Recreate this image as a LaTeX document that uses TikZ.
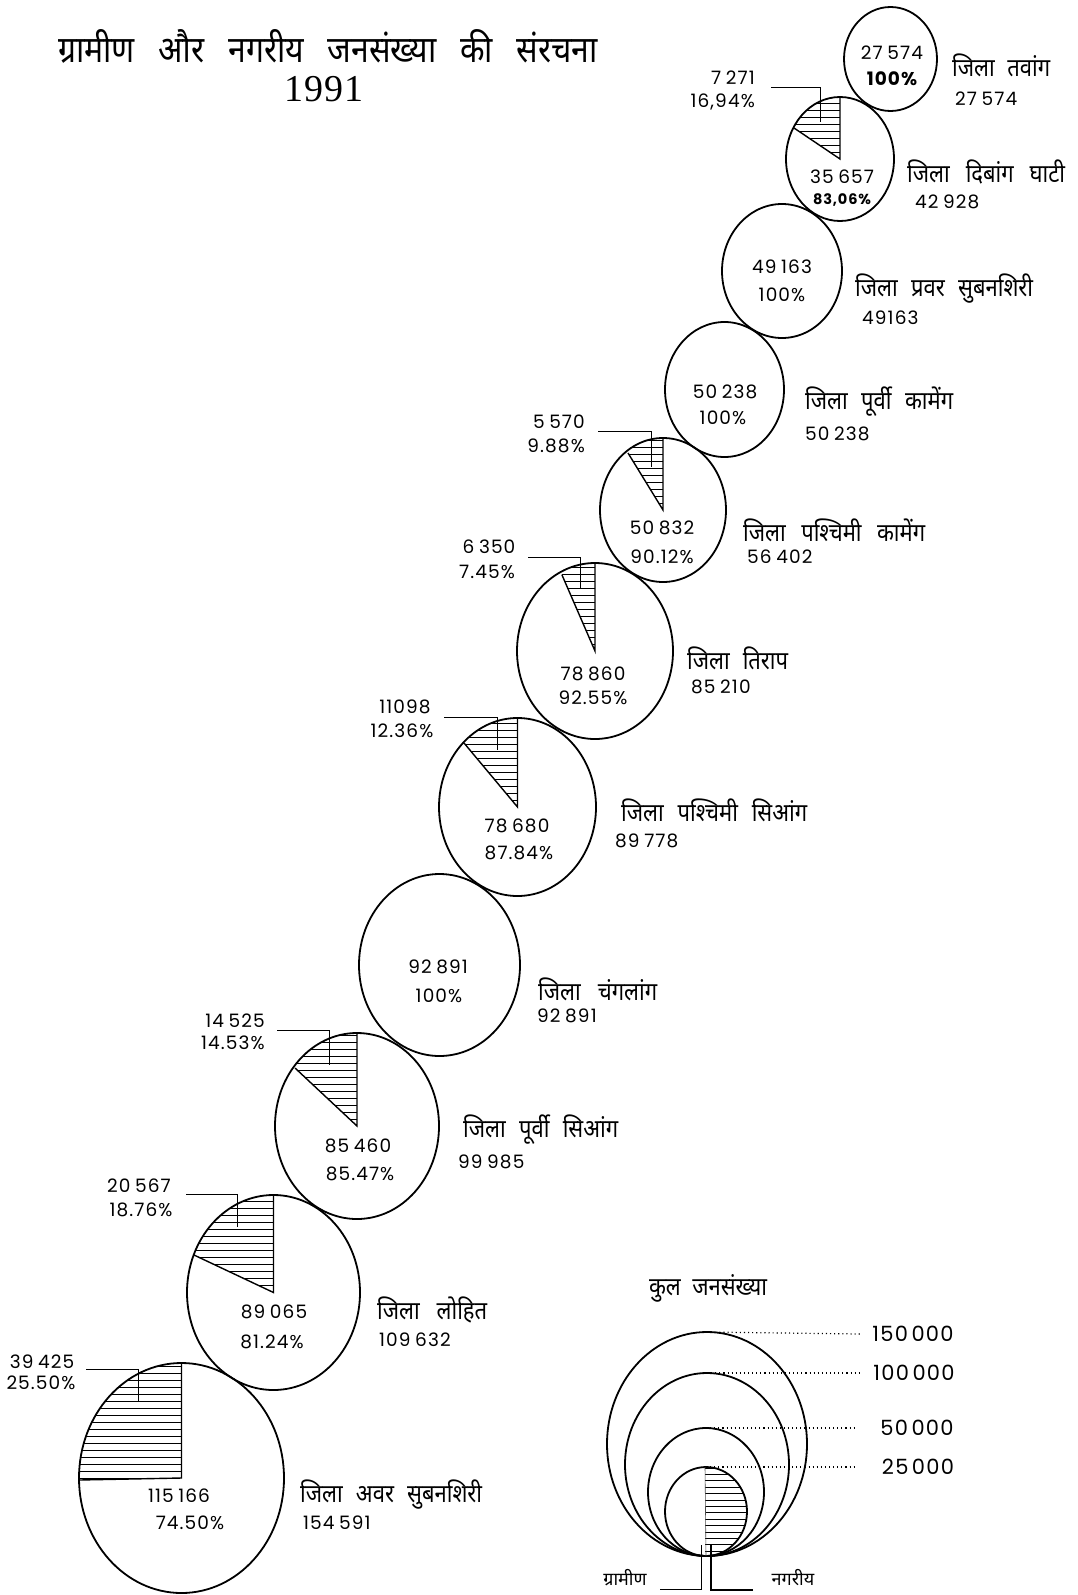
\documentclass[tikz,border=0pt]{standalone}
\usepackage{fontspec}
\setmainfont[LetterSpace=6]{Poppins}
\newfontfamily\hin[Script=Devanagari]{Noto Sans}
\newfontfamily\serifnum[LetterSpace=3]{Liberation Serif}
\usetikzlibrary{shapes.geometric,calc}
\tikzset{
  disc/.style={draw,ellipse,inner sep=0pt,outer sep=0pt,line width=1.8pt},
  wedgeedge/.style={line width=1.4pt},
  hatchline/.style={line width=0.7pt},
  leader/.style={line width=1pt},
  dots/.style={line width=1.2pt,dash pattern=on 1.1pt off 3pt},
  num/.style={inner sep=0pt,font=\fontsize{18.5}{20}\selectfont},
  numb/.style={num,font=\fontsize{18.5}{20}\selectfont\bfseries},
  numsmall/.style={num,font=\fontsize{14.5}{18}\selectfont\bfseries},
  total/.style={num,anchor=west},
  lab/.style={inner sep=0pt,anchor=west,font=\hin\fontsize{22}{24}\selectfont},
  legnum/.style={inner sep=0pt,font=\fontsize{21}{24}\selectfont},
  smalllab/.style={inner sep=0pt,font=\hin\fontsize{18}{20}\selectfont},
}
\newcommand\fit[2]{\scalebox{1}[1.15]{\hbox to #1pt{#2}}}
\newcommand\sep{\hfill}
\newcommand\ts{\hspace{0.25em}}
% name, cx, cy, rx, ry
\newcommand\plaindisc[5]{%
  \node[disc,minimum width={2*#4*1pt},minimum height={2*#5*1pt}] (#1) at (#2,#3) {};}
% name, cx, cy, rx, ry, tipx, tipy
\newcommand\hatchpie[7]{%
  \plaindisc{#1}{#2}{#3}{#4}{#5}%
  \pgfmathsetmacro\ex{#2+1.4*(#6-#2)}%
  \pgfmathsetmacro\ey{#3+1.4*(#7-#3)}%
  \pgfmathsetmacro\ty{#3-1.5*#5}%
  \pgfmathsetmacro\lx{#2-#4}%
  \pgfmathtruncatemacro\nn{#5/7}%
  \begin{scope}
    \clip (#2,#3) ellipse [x radius=#4, y radius=#5];
    \clip (#2,#3) -- (\ex,\ey) -- (\ex,\ty) -- (#2,\ty) -- cycle;
    \foreach \k in {0,...,\nn}{
      \pgfmathsetmacro\yy{#3-\k*7}
      \draw[hatchline] (\lx,\yy) -- (#2,\yy);
    }
  \end{scope}
  \coordinate (#1apex) at (#2,#3);
  \coordinate (#1tip) at (#6,#7);
  \coordinate (#1top) at ($(#2,#3)-(0,#5)$);
  \draw[wedgeedge] (#1tip) -- (#1apex) -- (#1top);}
\newcommand\lead[4]{%
  \coordinate (#1a) at (#2,#3);
  \coordinate (#1b) at (#4);
  \draw[leader] (#1a) -| (#1b);}

\begin{document}
\begin{tikzpicture}[x=1pt,y=-1pt]
\path[use as bounding box,fill=white] (0,0) rectangle (1078,1595);

% title
\node[inner sep=0pt,font=\hin\fontsize{32}{36}\selectfont] (title) at (328,46)
  {\fit{540}{ग्रामीण\sep और\sep नगरीय\sep जनसंख्या\sep की\sep संरचना}};
\node[inner sep=0pt,font=\serifnum\fontsize{38}{40}\selectfont] (year) at (324,89) {1991};

% discs
\plaindisc{c1}{890.5}{59}{46.5}{52}
\hatchpie{c2}{840}{159}{54}{62}{794}{128}
\plaindisc{c3}{782}{271}{60}{67}
\plaindisc{c4}{724.5}{389.5}{59.5}{67.5}
\hatchpie{c5}{663}{510}{63}{72}{628}{453}
\hatchpie{c6}{595}{651}{78}{88}{562}{575}
\hatchpie{c7}{517.5}{807}{78.5}{89}{464}{743}
\plaindisc{c8}{439.5}{965}{80.5}{91}
\hatchpie{c9}{357}{1126}{82}{93}{295}{1068}
\hatchpie{c10}{273.5}{1292.5}{86.5}{97.5}{194}{1255}
\hatchpie{c11}{181.5}{1478}{102.5}{115}{79}{1480}

% leaders
\coordinate (l2e) at (820,122);  \lead{l2}{771}{87}{l2e}
\coordinate (l5e) at (651,467);  \lead{l5}{598}{431}{l5e}
\coordinate (l6e) at (580,588);  \lead{l6}{528}{557}{l6e}
\coordinate (l7e) at (497,750);  \lead{l7}{444}{717}{l7e}
\coordinate (l9e) at (329,1065); \lead{l9}{277}{1030}{l9e}
\coordinate (l10e) at (237,1227);\lead{l10}{186}{1194}{l10e}
\coordinate (l11e) at (138,1402);\lead{l11}{86}{1369}{l11e}

% c1
\node[num] (n1a) at (892,53) {27\ts574};
\node[numb] (n1b) at (892,79) {100\%};
\node[lab] (n1c) at (952,65) {\fit{98}{जिला\sep तवांग}};
\node[total] (n1d) at (955,99) {27\ts574};
% c2
\node[num,anchor=east] (n2a) at (755,78) {7\ts271};
\node[num,anchor=east] (n2b) at (755,102) {16,94\%};
\node[num] (n2c) at (842,177) {35\ts657};
\node[numsmall] (n2d) at (842,200) {83,06\%};
\node[lab] (n2e) at (907,172) {\fit{158}{जिला\sep दिबांग\sep घाटी}};
\node[total] (n2f) at (915,202) {42\ts928};
% c3
\node[num] (n3a) at (782,267) {49\ts163};
\node[num] (n3b) at (782,295) {100\%};
\node[lab] (n3c) at (855,289) {\fit{178}{जिला\sep प्रवर\sep सुबनशिरी}};
\node[total] (n3d) at (862,318) {49163};
% c4
\node[num] (n4a) at (725,392) {50\ts238};
\node[num] (n4b) at (723,418) {100\%};
\node[lab] (n4c) at (805,402) {\fit{148}{जिला\sep पूर्वी\sep कामेंग}};
\node[total] (n4d) at (805,434) {50\ts238};
% c5
\node[num,anchor=east] (n5a) at (585,422) {5\ts570};
\node[num,anchor=east] (n5b) at (585,446) {9.88\%};
\node[num] (n5c) at (662,528) {50\ts832};
\node[num] (n5d) at (662,557) {90.12\%};
\node[lab] (n5e) at (743,530) {\fit{182}{जिला\sep पश्चिमी\sep कामेंग}};
\node[total] (n5f) at (747,557) {56\ts402};
% c6
\node[num] (n6a) at (489,547) {6\ts350};
\node[num] (n6b) at (487,572) {7.45\%};
\node[num] (n6c) at (593,674) {78\ts860};
\node[num] (n6d) at (593,698) {92.55\%};
\node[lab] (n6e) at (687,658) {\fit{101}{जिला\sep तिराप}};
\node[total] (n6f) at (691,687) {85\ts210};
% c7
\node[num] (n7a) at (405,707) {11098};
\node[num] (n7b) at (402,731) {12.36\%};
\node[num] (n7c) at (517,826) {78\ts680};
\node[num] (n7d) at (519,853) {87.84\%};
\node[lab] (n7e) at (621,810) {\fit{186}{जिला\sep पश्चिमी\sep सिआंग}};
\node[total] (n7f) at (615,841) {89\ts778};
% c8
\node[num] (n8a) at (438,967) {92\ts891};
\node[num] (n8b) at (439,996) {100\%};
\node[lab] (n8c) at (538,989) {\fit{119}{जिला\sep चंगलांग}};
\node[total] (n8d) at (537,1016) {92\ts891};
% c9
\node[num] (n9a) at (235,1021) {14\ts525};
\node[num] (n9b) at (233,1043) {14.53\%};
\node[num] (n9c) at (358,1146) {85\ts460};
\node[num] (n9d) at (360,1174) {85.47\%};
\node[lab] (n9e) at (463,1130) {\fit{155}{जिला\sep पूर्वी\sep सिआंग}};
\node[total] (n9f) at (458,1162) {99\ts985};
% c10
\node[num] (n10a) at (139,1186) {20\ts567};
\node[num] (n10b) at (141,1210) {18.76\%};
\node[num] (n10c) at (274,1312) {89\ts065};
\node[num] (n10d) at (272,1342) {81.24\%};
\node[lab] (n10e) at (377,1310) {\fit{110}{जिला\sep लोहित}};
\node[total] (n10f) at (379,1340) {109\ts632};
% c11
\node[num] (n11a) at (42,1362) {39\ts425};
\node[num] (n11b) at (41,1383) {25.50\%};
\node[num] (n11c) at (179,1496) {115\ts166};
\node[num] (n11d) at (190,1523) {74.50\%};
\node[lab] (n11e) at (300,1495) {\fit{182}{जिला\sep अवर\sep सुबनशिरी}};
\node[total] (n11f) at (303,1523) {154\ts591};

% legend
\node[lab,anchor=center] (legt) at (708,1288) {\fit{118}{कुल\sep जनसंख्या}};
\plaindisc{e150}{707}{1444}{100}{112}
\plaindisc{e100}{707}{1464.5}{82}{91.5}
\plaindisc{e50}{706}{1492}{58}{64}
\plaindisc{e25}{706}{1511.5}{41}{44.5}
\begin{scope}
  \clip (706,1511.5) ellipse [x radius=41, y radius=44.5];
  \clip (705,1460) rectangle (760,1560);
  \foreach \k in {0,...,14}{
    \pgfmathsetmacro\yy{1468+\k*6.4}
    \draw[hatchline] (705,\yy) -- (750,\yy);
  }
\end{scope}
\draw[line width=0.6pt,black!70] (e25.north) ++(-1,0) -- (e25.south);

\node[legnum] (v150) at (913,1334) {150\,000};
\node[legnum] (v100) at (914,1373) {100\,000};
\node[legnum] (v50)  at (917,1428) {50\,000};
\node[legnum] (v25)  at (918,1467) {25\,000};
\coordinate (d150) at (860,1334);
\coordinate (d100) at (862,1373);
\coordinate (d50)  at (857,1428);
\coordinate (d25)  at (857,1467);
\draw[dots] (e150.north) -- (d150);
\draw[dots] (e100.north) -- (d100);
\draw[dots] (e50.north) -- (d50);
\draw[dots] (e25.north) -- (d25);

\node[smalllab] (rural) at (625,1578) {ग्रामीण};
\node[smalllab] (urban) at (793,1578) {नगरीय};
\coordinate (ra) at (660,1589); \coordinate (rb) at (701,1545);
\coordinate (ua) at (753,1590); \coordinate (ub) at (711,1545);
\draw[leader] (ra) -| (rb);
\draw[line width=1.4pt] (ua) -| (ub);
\end{tikzpicture}
\end{document}
